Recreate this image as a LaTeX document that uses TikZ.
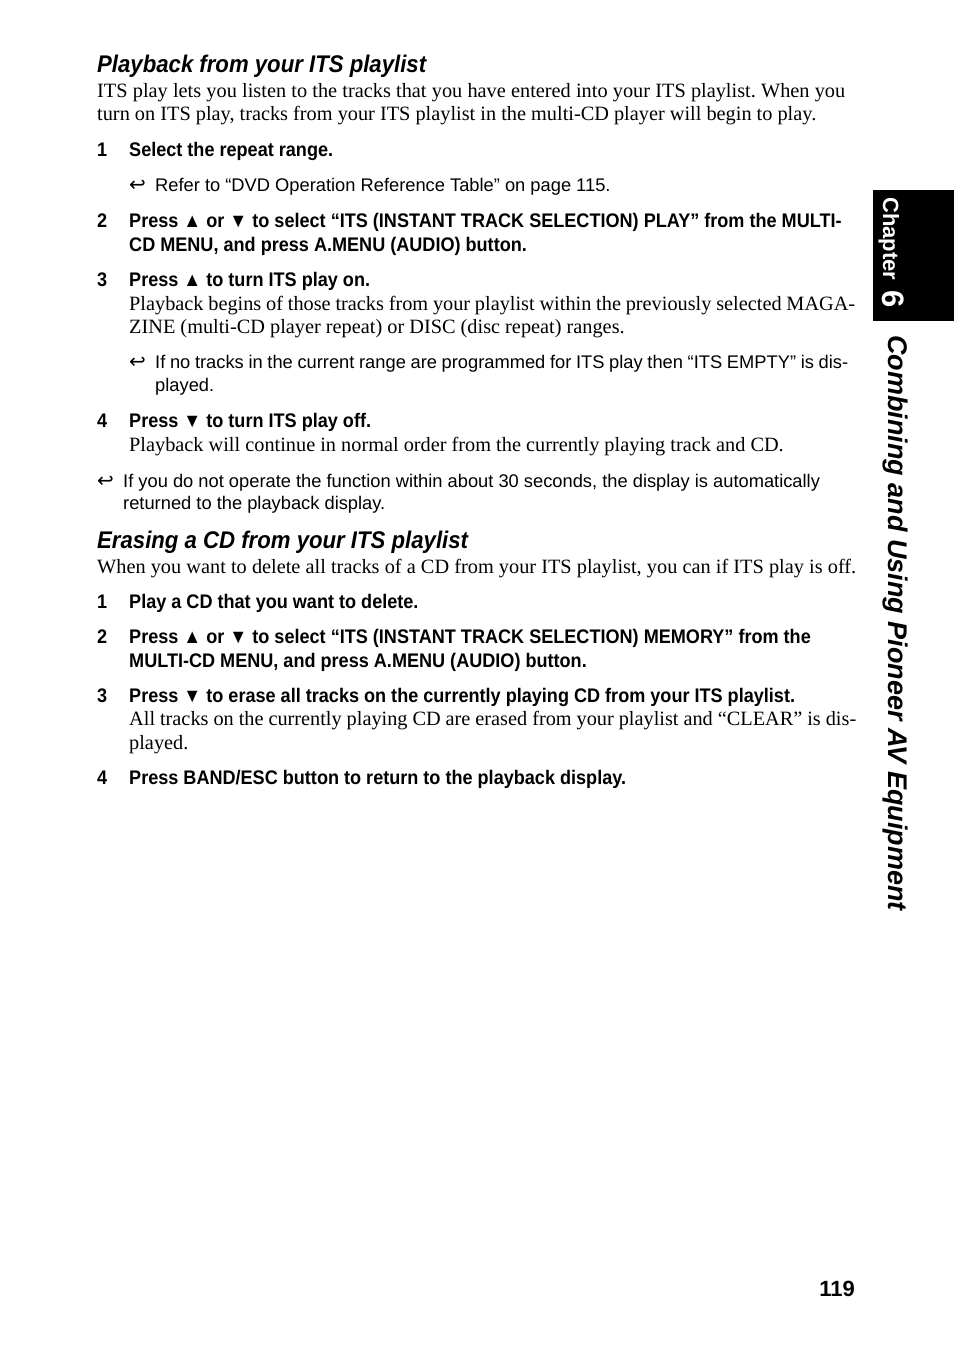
\documentclass[tikz,border=0pt]{standalone}
\usepackage{fontspec}
\setmainfont{Liberation Serif}
\setsansfont{Liberation Sans}
\newfontfamily\symfont{DejaVu Sans}
\newfontfamily\condfont[FakeStretch=0.92]{Liberation Sans}
\newcommand\hook{{\symfont\fontsize{20}{22}\selectfont ↩}}
\newcommand\jus[2]{\makebox[#1pt][s]{#2}}
\frenchspacing

\begin{document}
\begin{tikzpicture}[x=1pt,y=-1pt,
  body/.style={anchor=base west,inner sep=0pt,font=\fontsize{20.3}{23}\selectfont},
  head/.style={anchor=base west,inner sep=0pt,font=\fontsize{24.1}{28}\condfont\bfseries\itshape},
  stepbox/.style={anchor=base west,inner sep=0pt,font=\fontsize{19.65}{22}\condfont\bfseries},
  note/.style={anchor=base west,inner sep=0pt,font=\fontsize{18.3}{21}\sffamily}]
   \useasboundingbox (0,0) rectangle (954,1349);
   % first section
   \node[head] (h1) at (97,72) {Playback from your ITS playlist};
   \node[body] (b1a) at (97,97) {\jus{748}{ITS play lets you listen to the tracks that you have entered into your ITS playlist. When you}};
   \node[body] (b1b) at (97,120) {turn on ITS play, tracks from your ITS playlist in the multi-CD player will begin to play.};
   \node[stepbox] (n1) at (97,156) {1};
   \node[stepbox] (s1) at (129,156) {Select the repeat range.};
   \node[note] (k1) at (129,191) {\hook};
   \node[note] (t1) at (155,191) {Refer to “DVD Operation Reference Table” on page 115.};
   \node[stepbox] (n2) at (97,227) {2};
   \node[stepbox] (s2a) at (129,227) {Press ▲ or ▼ to select “ITS (INSTANT TRACK SELECTION) PLAY” from the MULTI-};
   \node[stepbox] (s2b) at (129,251) {CD MENU, and press A.MENU (AUDIO) button.};
   \node[stepbox] (n3) at (97,286) {3};
   \node[stepbox] (s3) at (129,286) {Press ▲ to turn ITS play on.};
   \node[body] (b3a) at (129,310) {\jus{726}{Playback begins of those tracks from your playlist within the previously selected MAGA-}};
   \node[body] (b3b) at (129,333) {ZINE (multi-CD player repeat) or DISC (disc repeat) ranges.};
   \node[note] (k2) at (129,368) {\hook};
   \node[note] (t2a) at (155,368) {\jus{693}{If no tracks in the current range are programmed for ITS play then “ITS EMPTY” is dis-}};
   \node[note] (t2b) at (155,391) {played.};
   \node[stepbox] (n4) at (97,427) {4};
   \node[stepbox] (s4) at (129,427) {Press ▼ to turn ITS play off.};
   \node[body] (b4) at (129,451) {Playback will continue in normal order from the currently playing track and CD.};
   \node[note] (k3) at (97,487) {\hook};
   \node[note] (t3a) at (123,487) {If you do not operate the function within about 30 seconds, the display is automatically};
   \node[note] (t3b) at (123,509) {returned to the playback display.};
   % second section
   \node[head] (h2) at (97,548) {Erasing a CD from your ITS playlist};
   \node[body] (b5) at (97,573) {\jus{759}{When you want to delete all tracks of a CD from your ITS playlist, you can if ITS play is off.}};
   \node[stepbox] (m1) at (97,608) {1};
   \node[stepbox] (r1) at (129,608) {Play a CD that you want to delete.};
   \node[stepbox] (m2) at (97,643) {2};
   \node[stepbox] (r2a) at (129,643) {Press ▲ or ▼ to select “ITS (INSTANT TRACK SELECTION) MEMORY” from the};
   \node[stepbox] (r2b) at (129,667) {MULTI-CD MENU, and press A.MENU (AUDIO) button.};
   \node[stepbox] (m3) at (97,702) {3};
   \node[stepbox] (r3) at (129,702) {Press ▼ to erase all tracks on the currently playing CD from your ITS playlist.};
   \node[body] (b6a) at (129,725) {\jus{727}{All tracks on the currently playing CD are erased from your playlist and “CLEAR” is dis-}};
   \node[body] (b6b) at (129,749) {played.};
   \node[stepbox] (m4) at (97,784) {4};
   \node[stepbox] (r4) at (129,784) {Press BAND/ESC button to return to the playback display.};
   % page number
   \node[stepbox,anchor=base east,font=\fontsize{22}{24}\sffamily\bfseries] (pg) at (855,1296) {119};
   % chapter tab
   \fill (873,190) rectangle (954,321);
   \node[anchor=base west,inner sep=0pt,rotate=-90,white,font=\fontsize{22}{24}\sffamily\bfseries] (ch) at (883,197) {Chapter};
   \node[anchor=base west,inner sep=0pt,rotate=-90,white,font=\fontsize{31}{34}\sffamily\bfseries] (cn) at (882,290) {6};
   \node[anchor=base west,inner sep=0pt,rotate=-90,font=\fontsize{27}{32}\sffamily\bfseries\itshape] (ct) at (888,335) {Combining and Using Pioneer AV Equipment};
\end{tikzpicture}
\end{document}
